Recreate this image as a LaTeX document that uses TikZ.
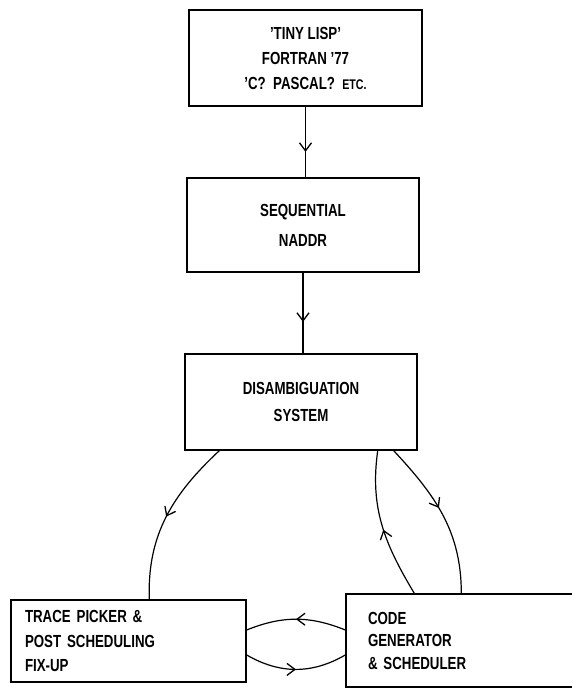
\documentclass[tikz,border=0pt]{standalone}
\usepackage{fontspec}
\setmainfont[FakeStretch=0.76]{Liberation Sans}
\usetikzlibrary{arrows.meta,decorations.markings,calc}

\tikzset{
  stage/.style={draw,line width=1.4pt,align=center,inner sep=0pt,
    font=\fontsize{17.5}{25}\selectfont\bfseries},
  flow/.style={line width=1.2pt},
  midarrow/.style={postaction={decorate},decoration={markings,
    mark=at position #1 with {\arrow{Straight Barb[length=8pt,width=12pt,line width=1.3pt]}}}},
  midarrow/.default=0.5
}

\begin{document}
\begin{tikzpicture}[x=1pt,y=1pt]
        \useasboundingbox (0,0) rectangle (571,692);

        % The three stages of the front end
        \node[stage,minimum width=233pt,minimum height=96pt] (lisp) at (305.5,634)
            {'TINY LISP'\\FORTRAN '77\\'C?\ \ PASCAL?\ \ {\fontsize{14}{25}\selectfont ETC.}};
        \node[stage,minimum width=232pt,minimum height=94pt,
              font=\fontsize{17.5}{30}\selectfont\bfseries] (seq) at (303,467)
            {SEQUENTIAL\\NADDR};
        \node[stage,minimum width=232pt,minimum height=96pt,
              font=\fontsize{17.5}{27}\selectfont\bfseries] (dis) at (301,290)
            {DISAMBIGUATION\\SYSTEM};

        % The two back end boxes (the right one runs off the page)
        \node[stage,text width=207pt,inner xsep=14pt,minimum height=82pt,align=left,
              font=\fontsize{17.5}{24.5}\selectfont\bfseries] (trace) at (128.5,51)
            {TRACE PICKER \&\\POST SCHEDULING\\FIX-UP};
        \node[stage,text width=190pt,inner xsep=22pt,minimum height=93pt,align=left,
              font=\fontsize{17.5}{22.5}\selectfont\bfseries] (code) at (463,51.5)
            {CODE\\GENERATOR\\\& SCHEDULER};

        % Straight arrows down the front end
        \draw[flow,midarrow=0.64] (lisp.south) -- (lisp.south |- seq.north);
        \draw[flow,midarrow=0.61] (seq.south) -- (seq.south |- dis.north);

        % The loop between the disambiguator and the back end
        \draw[flow,midarrow=0.5] ([xshift=35pt]dis.south west) to[out=223,in=92] ([xshift=139pt]trace.north west);
        \draw[flow,midarrow=0.45] ([xshift=-24pt]dis.south east) to[out=-47,in=90] ([xshift=116pt]code.north west);
        \draw[flow,midarrow=0.47] ([xshift=69pt]code.north west) to[out=121,in=-98] ([xshift=-40pt]dis.south east);

        % Back and forth between the two back end boxes
        \draw[flow,midarrow=0.5] ([yshift=10.5pt]code.west) to[out=158,in=22] ([yshift=11pt]trace.east);
        \draw[flow,midarrow=0.5] ([yshift=-14pt]trace.east) to[out=-30,in=210] ([yshift=-14.5pt]code.west);
    \end{tikzpicture}
\end{document}
